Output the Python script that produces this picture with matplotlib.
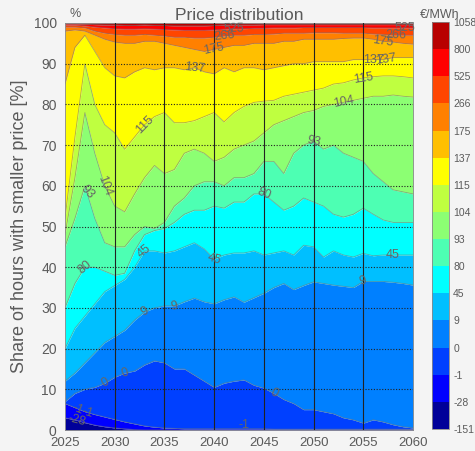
import numpy as np
import matplotlib.pyplot as plt
from matplotlib.colors import ListedColormap, BoundaryNorm
import matplotlib as mpl

plt.rcParams['font.family'] = ['Liberation Sans', 'DejaVu Sans']

years = np.arange(2025, 2061)
levels = [-151, -28, -1, 0, 9, 45, 80, 93, 104, 115, 137, 175, 266, 525, 800, 1058]

# share of hours (%) with price below each level, per year
b_m28 = [3, 2.5, 1.8, 1.2, 0.8, 0.5, 0.3, 0.1, 0, 0, 0, 0, 0, 0, 0, 0, 0, 0,
         0, 0, 0, 0, 0, 0, 0, 0, 0, 0, 0, 0, 0, 0, 0, 0, 0, 0]
b_m1 = [6.5, 5.5, 4.5, 3.8, 3.2, 2.6, 2.0, 1.5, 1.0, 0.7, 0.5, 0.4, 0.3, 0.3, 0.3, 0.3, 0.3, 0.3,
        0.3, 0.3, 0.3, 0.2, 0.2, 0.2, 0.2, 0.2, 0.2, 0.2, 0.2, 0.2, 0.2, 0.2, 0.2, 0.2, 0.2, 0.2]
b_0 = [7, 9, 10, 10.5, 11.5, 13, 14, 14.5, 16, 17, 16.5, 15, 15, 13.5, 12, 10.5, 11.5, 12,
       12.3, 11, 10.3, 9, 7.5, 6.5, 5, 5, 4.5, 4, 3, 2.5, 1.7, 2.5, 2, 1.3, 0.8, 0.5]
b_9 = [12, 14, 16.5, 19, 21.5, 23, 24.5, 27, 29, 30, 30.5, 30.5, 31.5, 32.4, 31.5, 31, 32, 32.7,
       31.4, 32.5, 33.6, 35, 36, 34.5, 35.5, 36.4, 36, 35.6, 35.3, 35, 36.5, 36.5, 36.5, 36.3, 36, 35.6]
b_45 = [20, 25, 28, 31, 34, 35.5, 37, 40, 44, 44, 43.5, 44, 45, 46, 44.5, 42, 43, 43.5,
        43.5, 44, 43, 43.5, 44, 43, 45.4, 45, 42.5, 44, 43, 42.5, 43.4, 42.8, 43, 43, 43, 43]
b_80 = [30, 36, 40, 40, 39, 38, 38.5, 44, 48, 49, 49.5, 51, 53, 54, 54, 55, 54.5, 56,
        56, 58, 58, 56, 54, 55, 57, 56, 55, 53, 52.3, 53, 54.5, 53, 51.6, 51, 51, 51]
b_93 = [45, 52, 60, 52, 46, 45, 45, 48, 50, 49.5, 51, 55, 57, 60, 61, 61, 60, 62,
        62, 63, 66, 66, 63, 68, 70, 71, 69, 70, 68, 67, 66, 63, 61, 59, 58.5, 58]
b_104 = [48, 62, 78, 68, 60, 55, 53.6, 58, 62, 65, 63, 64, 68, 69, 68, 66, 67, 69,
         70, 71, 73, 75, 76, 77, 78, 78.5, 79.5, 80, 80.5, 81, 81.5, 82, 82, 82.3, 82, 81.8]
b_115 = [52, 72, 90, 80, 75, 73, 69, 72, 75, 77, 78, 75.5, 75.5, 76, 77, 78, 75.7, 78,
         79.5, 80.5, 80.8, 81, 82, 82.5, 83, 83.5, 84, 85, 85.3, 86, 86.5, 86.8, 87, 87, 86.8, 86.5]
b_137 = [85, 94, 97, 93, 89, 87, 86.5, 88, 89, 88.5, 89, 89, 88.5, 89, 88, 87.5, 89, 88,
         89, 89, 88.5, 89, 89.5, 90, 90, 90.5, 90.5, 90.5, 90.5, 91, 91, 91, 91, 91.5, 91.5, 91.5]
b_175 = [98, 98.3, 98, 97, 96, 95.3, 95, 95, 95.5, 95.5, 95, 94.5, 94, 93.5, 93, 93.5, 94, 94.5,
         94.5, 95, 95, 95, 95.5, 95.5, 96, 96, 96, 96, 96.2, 96.3, 96.3, 96, 95.5, 95.3, 95, 94.8]
b_266 = [99, 99, 98.8, 98, 97.5, 97.2, 97, 97, 97.2, 97, 96.8, 96.5, 96.5, 96.3, 96.3, 96.5, 96.8, 97,
         97, 97.2, 97.2, 97.3, 97.5, 97.5, 97.5, 97.6, 97.6, 97.6, 97.5, 97.5, 97.5, 97.3, 97.2, 97, 97, 97]
b_525 = [99.5, 99.5, 99.3, 99, 98.8, 98.6, 98.5, 98.5, 98.6, 98.5, 98.4, 98.3, 98.2, 98.2, 98.2, 98.3, 98.5, 98.6,
         98.6, 98.7, 98.7, 98.8, 98.8, 98.8, 98.9, 98.9, 98.9, 98.9, 98.9, 98.9, 98.9, 98.8, 98.8, 98.8, 98.8, 98.8]
b_800 = [99.8, 99.8, 99.7, 99.6, 99.5, 99.5, 99.4, 99.4, 99.5, 99.4, 99.4, 99.3, 99.3, 99.3, 99.3, 99.4, 99.5, 99.5,
         99.5, 99.5, 99.6, 99.6, 99.6, 99.6, 99.6, 99.6, 99.6, 99.6, 99.6, 99.6, 99.6, 99.6, 99.6, 99.6, 99.6, 99.6]

bounds = [b_m28, b_m1, b_0, b_9, b_45, b_80, b_93, b_104, b_115, b_137, b_175, b_266, b_525, b_800]

# contour labels: (level, year)
label_pos = [(-28, 2026.2), (-1, 2026.3), (-1, 2027.3), (-1, 2043), (0, 2029), (0, 2031), (0, 2046),
             (9, 2033), (9, 2036), (9, 2055), (45, 2033), (45, 2040), (45, 2058),
             (80, 2027), (80, 2045), (93, 2027.2), (93, 2050), (104, 2029), (104, 2053),
             (115, 2033), (115, 2055), (137, 2038), (137, 2056), (137, 2057.3),
             (175, 2040), (175, 2057), (266, 2041), (266, 2058.3), (525, 2042), (525, 2059.2)]

colors = [(0, 0, 0.6), (0, 0, 1), (0, 0.25, 1), (0, 0.5, 1), (0, 0.75, 1), (0, 1, 1),
          (0.3, 1, 0.7), (0.55, 1, 0.45), (0.75, 1, 0.25), (1, 1, 0), (1, 0.75, 0),
          (1, 0.5, 0), (1, 0.27, 0), (1, 0, 0), (0.72, 0, 0)]

grey = '#5a5a5a'
fig = plt.figure(figsize=(4.75, 4.51), dpi=100, facecolor='#f4f4f4')
ax = fig.add_axes([65/475, 21/451, 348/475, 407/451])
cax = fig.add_axes([432/475, 22/451, 17/475, 407/451])

stack = [np.zeros(len(years))] + [np.array(b, float) for b in bounds] + [np.full(len(years), 100.0)]
for i in range(15):
    ax.fill_between(years, stack[i], stack[i + 1], color=colors[i], lw=0)
for b in bounds:
    ax.plot(years, b, color='#777777', lw=0.6, alpha=0.6)

ax.set_xlim(2025, 2060)
ax.set_ylim(0, 100)
ax.set_xticks(np.arange(2025, 2061, 5))
ax.set_yticks(np.arange(0, 101, 10))
ax.tick_params(colors=grey, labelsize=10, length=0)
ax.tick_params(axis='x', pad=5, labelsize=9.5)
ax.tick_params(axis='y', pad=6)
for s in ax.spines.values():
    s.set_color('#888888')
    s.set_linewidth(0.6)
for xv in range(2030, 2060, 5):
    ax.axvline(xv, color='#222222', lw=0.8, zorder=3)
for yv in range(10, 100, 10):
    ax.axhline(yv, color='#222222', lw=0.8, ls=(0, (1, 1.5)), zorder=3)

ax.set_ylabel('Share of hours with smaller price [%]', color=grey, fontsize=13, labelpad=4)
ax.set_title('Price distribution', color=grey, fontsize=12.5, pad=2)
fig.text(70/475, 1 - 14/451, '%', color=grey, fontsize=9, ha='left', va='center')
fig.text(440/475, 1 - 15/451, '€/MWh', color=grey, fontsize=9, ha='center', va='center')

fig.canvas.draw()
for lev, yr in label_pos:
    b = np.array(bounds[levels.index(lev) - 1], float)
    yv = np.interp(yr, years, b)
    p1 = ax.transData.transform((yr - 0.6, np.interp(yr - 0.6, years, b)))
    p2 = ax.transData.transform((yr + 0.6, np.interp(yr + 0.6, years, b)))
    ang = np.degrees(np.arctan2(p2[1] - p1[1], p2[0] - p1[0]))
    ax.text(yr, max(yv, 1.2), str(lev), color='#666666', fontsize=9, rotation=ang,
            ha='center', va='center', rotation_mode='anchor', zorder=4)

cmap = ListedColormap(colors)
norm = BoundaryNorm(np.arange(16), 15)
cb = mpl.colorbar.ColorbarBase(cax, cmap=cmap, norm=norm, boundaries=np.arange(16), ticks=np.arange(16))
cb.set_ticklabels([str(v) for v in levels])
cb.ax.tick_params(colors=grey, labelsize=7.5, length=0, pad=3)
cb.outline.set_edgecolor('#888888')
cb.outline.set_linewidth(0.6)

fig.savefig('out.png', dpi=100, facecolor=fig.get_facecolor())
